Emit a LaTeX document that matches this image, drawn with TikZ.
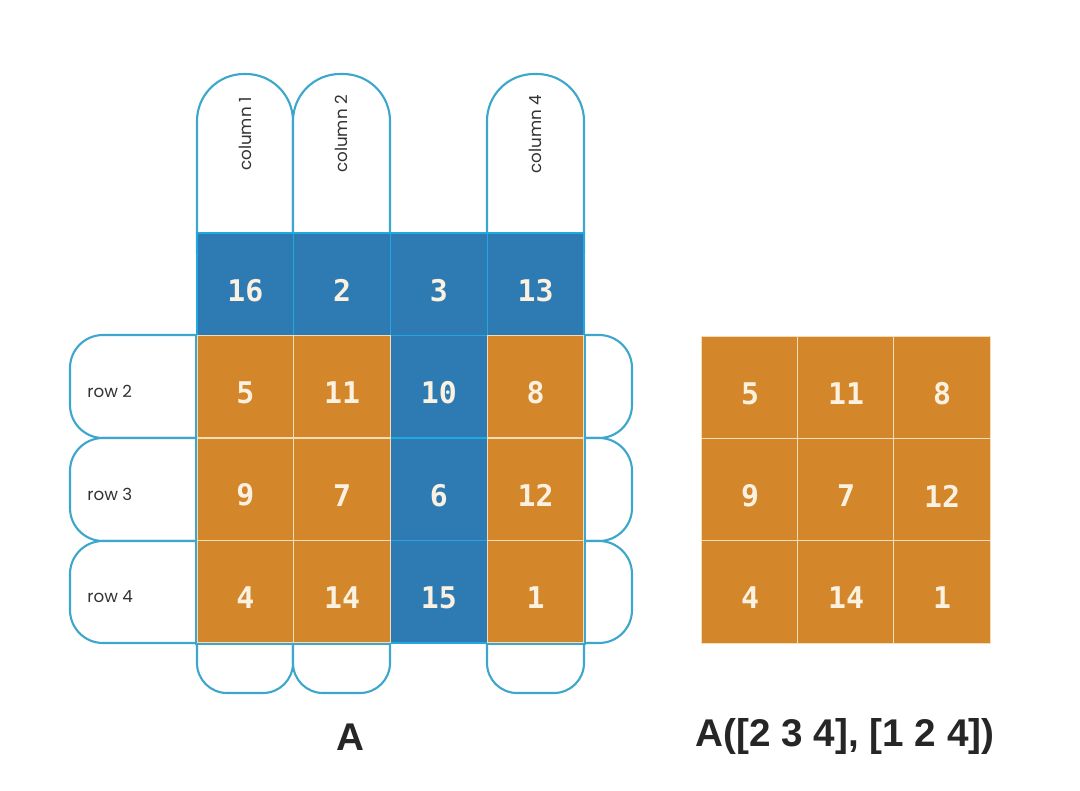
\documentclass[tikz,border=0pt]{standalone}
\usepackage{fontspec}
\setmainfont{Liberation Sans}
\newfontfamily\numfont{DejaVu Sans Mono}
\newfontfamily\tagfont{Poppins}
\usepackage{tikz}
\definecolor{pillc}{HTML}{3CA6CC}
\definecolor{cellb}{HTML}{2E7BB4}
\definecolor{gridb}{HTML}{22A7DE}
\definecolor{cello}{HTML}{D4862B}
\definecolor{grido}{HTML}{F3DDB8}
\definecolor{numc}{HTML}{FBF1E0}

\begin{document}
\begin{tikzpicture}[x=0.02cm, y=-0.02cm,
  pill/.style={draw=pillc, line width=1.2pt, fill=white},
  cell/.style={minimum width=1.935cm, minimum height=2.05cm, inner sep=0pt, line width=0.8pt},
  bcell/.style={cell, fill=cellb, draw=gridb},
  ocell/.style={cell, fill=cello, draw=grido},
  num/.style={font=\numfont\bfseries\fontsize{17}{17}\selectfont, text=numc},
  tag/.style={font=\tagfont\fontsize{9.5}{10}\selectfont, text=black!80, inner sep=0pt},
  title/.style={font=\bfseries\fontsize{22}{24}\selectfont, text=black!85}]
\useasboundingbox (0,0) rectangle (1080,791);

% column tabs
\foreach \xa/\xb/\k in {197/293/1, 293/390/2, 487/584/4}{
  \draw[pill, rounded corners=0.94cm] (\xa,74) rectangle (\xb,300);
  \draw[pill, rounded corners=0.6cm] (\xa,580) rectangle (\xb,693);
  \node[tag, rotate=90] (col\k) at ({(\xa+\xb)/2}, 134) {column \k};
}
% row tabs
\foreach \ya/\yb/\k in {335/438/2, 438/541/3, 541/643/4}{
  \draw[pill, rounded corners=0.66cm] (70,\ya) rectangle (300,\yb);
  \draw[pill, rounded corners=0.66cm] (480,\ya) rectangle (632,\yb);
  \node[tag, anchor=west] (row\k) at (87, {(\ya+\yb)/2+5}) {row \k};
}

% matrix A
\foreach \r/\c/\v in {0/0/16, 0/1/2, 0/2/3, 0/3/13, 1/2/10, 2/2/6, 3/2/15}{
  \node[bcell] (a\r\c) at ({197+96.75*(\c+0.5)}, {233+102.5*(\r+0.5)}) {};
  \node[num] at ([yshift=-0.12cm]a\r\c.center) {\v};
}
\foreach \r/\c/\v in {1/0/5, 1/1/11, 1/3/8, 2/0/9, 2/1/7, 2/3/12, 3/0/4, 3/1/14, 3/3/1}{
  \node[ocell] (a\r\c) at ({197+96.75*(\c+0.5)}, {233+102.5*(\r+0.5)}) {};
  \node[num] at ([yshift=-0.12cm]a\r\c.center) {\v};
}
\draw[pillc, line width=1.2pt] (a10.north west) -- (a30.south west) -- (a31.south east);
\draw[pillc, line width=1.2pt] (a13.north east) -- (a33.south east) -- (a33.south west);

% sub-matrix
\foreach \r/\c/\v in {0/0/5, 0/1/11, 0/2/8, 1/0/9, 1/1/7, 1/2/12, 2/0/4, 2/1/14, 2/2/1}{
  \node[ocell] (b\r\c) at ({702+96*(\c+0.5)}, {337+102*(\r+0.5)}) {};
  \node[num] at ([yshift=-0.12cm]b\r\c.center) {\v};
}

\node[title] (lhs) at (350,737) {A};
\node[title] (rhs) at (845,737) {A([2 3 4], [1 2 4])};
\end{tikzpicture}
\end{document}
